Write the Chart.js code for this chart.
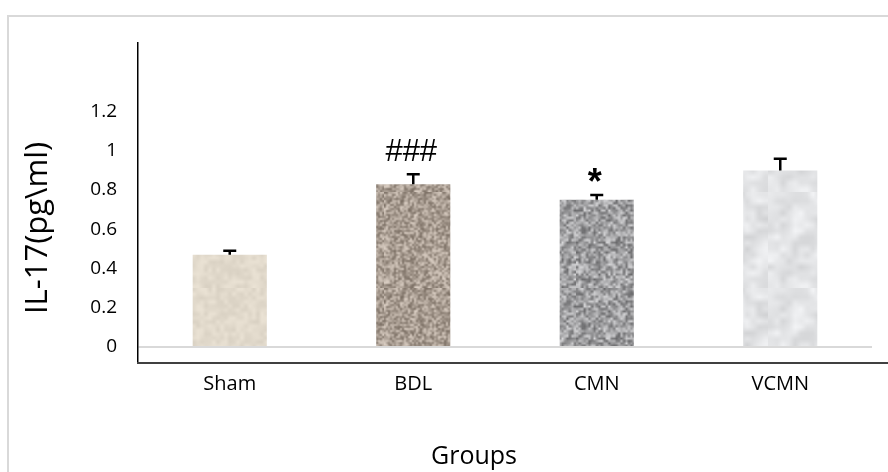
<!DOCTYPE html>
<html>
<head>
<meta charset="utf-8">
<script src="https://cdn.jsdelivr.net/npm/chart.js@4.4.1/dist/chart.umd.min.js"></script>
<style>
  html, body { margin: 0; padding: 0; background: #ffffff; }
  #c { display: block; }
</style>
</head>
<body>
<canvas id="c" width="888" height="472"></canvas>
<script>
// ---- data ----
const categories = ['Sham', 'BDL', 'CMN', 'VCMN'];
const meanValues = [0.47, 0.83, 0.75, 0.90];
const errorValues = [0.02, 0.05, 0.025, 0.06];
const significance = ['', '###', '*', ''];
const yTickValues = [0, 0.2, 0.4, 0.6, 0.8, 1, 1.2];
const yAxisTitle = 'IL-17(pg\\ml)';
const xAxisTitle = 'Groups';

// ---- textures (deterministic noise) ----
function hash(x, y, s) {
  const v = Math.sin(x * 12.9898 + y * 78.233 + s * 37.719) * 43758.5453;
  return v - Math.floor(v);
}
function makeTexture(base, amp, cell, seed, streak) {
  const W = 96, H = 96;
  const sw = Math.ceil(W / cell), sh = Math.ceil(H / cell);
  const small = document.createElement('canvas');
  small.width = sw; small.height = sh;
  const sctx = small.getContext('2d');
  const img = sctx.createImageData(sw, sh);
  for (let y = 0; y < sh; y++) {
    for (let x = 0; x < sw; x++) {
      let n = hash(x, y, seed) - 0.5;
      if (streak) n = 0.6 * n + 0.4 * Math.sin((x * 0.9 + y * 0.5) + hash(0, y, seed) * 3) * 0.5;
      const i = (y * sw + x) * 4;
      img.data[i] = Math.max(0, Math.min(255, base[0] + n * amp));
      img.data[i + 1] = Math.max(0, Math.min(255, base[1] + n * amp));
      img.data[i + 2] = Math.max(0, Math.min(255, base[2] + n * amp));
      img.data[i + 3] = 255;
    }
  }
  sctx.putImageData(img, 0, 0);
  const big = document.createElement('canvas');
  big.width = W; big.height = H;
  const bctx = big.getContext('2d');
  bctx.imageSmoothingEnabled = true;
  bctx.drawImage(small, 0, 0, W, H);
  return document.getElementById('c').getContext('2d').createPattern(big, 'repeat');
}
const textures = [
  makeTexture([226, 218, 204], 18, 4, 1, false),
  makeTexture([170, 158, 147], 95, 2, 2, false),
  makeTexture([160, 160, 162], 110, 2.5, 3, false),
  makeTexture([226, 227, 229], 36, 6, 4, true)
];

// ---- plugins ----
const framePlugin = {
  id: 'frame',
  beforeDraw(chart) {
    const ctx = chart.ctx;
    ctx.save();
    ctx.strokeStyle = '#d9d9d9';
    ctx.lineWidth = 2;
    ctx.strokeRect(8, 16, 900, 500);
    ctx.restore();
  },
  afterDraw(chart) {
    const ctx = chart.ctx, a = chart.chartArea;
    ctx.save();
    ctx.strokeStyle = '#404040';
    ctx.lineWidth = 2;
    ctx.beginPath();
    ctx.moveTo(a.left - 1, a.bottom);
    ctx.lineTo(chart.width, a.bottom);
    ctx.stroke();
    // axis titles
    ctx.fillStyle = '#000';
    ctx.textAlign = 'center';
    ctx.textBaseline = 'alphabetic';
    ctx.font = '25px "Open Sans"';
    ctx.fillText(xAxisTitle, 474, 464);
    ctx.font = '31px "Open Sans"';
    ctx.translate(47, 228);
    ctx.rotate(-Math.PI / 2);
    ctx.fillText(yAxisTitle, 0, 0);
    ctx.restore();
  }
};

const errorPlugin = {
  id: 'errbars',
  afterDatasetsDraw(chart) {
    const ctx = chart.ctx;
    const meta = chart.getDatasetMeta(0);
    const ys = chart.scales.y;
    ctx.save();
    meta.data.forEach((bar, i) => {
      const top = ys.getPixelForValue(meanValues[i] + errorValues[i]);
      ctx.strokeStyle = '#000';
      ctx.lineWidth = 2.5;
      ctx.beginPath();
      ctx.moveTo(bar.x, bar.y);
      ctx.lineTo(bar.x, top);
      ctx.moveTo(bar.x - 6.5, top);
      ctx.lineTo(bar.x + 6.5, top);
      ctx.stroke();
      if (significance[i]) {
        ctx.fillStyle = '#000';
        ctx.textAlign = 'center';
        ctx.textBaseline = 'alphabetic';
        if (significance[i] === '*') {
          ctx.font = 'bold 36px "Liberation Sans"';
          const m = ctx.measureText('*');
          const asc = m.actualBoundingBoxAscent, desc = m.actualBoundingBoxDescent;
          const centre = top - 20;
          ctx.fillText('*', bar.x - 2, centre + (asc - desc) / 2);
        } else {
          ctx.font = '31px "Liberation Sans"';
          const m = ctx.measureText(significance[i]);
          const desc = m.actualBoundingBoxDescent;
          ctx.fillText(significance[i], bar.x - 2, top - 13 - desc);
        }
      }
    });
    ctx.restore();
  }
};

new Chart(document.getElementById('c'), {
  type: 'bar',
  data: {
    labels: categories,
    datasets: [{
      data: meanValues,
      backgroundColor: textures,
      borderWidth: 0,
      categoryPercentage: 1.0,
      barPercentage: 0.404
    }]
  },
  options: {
    responsive: false,
    animation: false,
    events: [],
    layout: { padding: { top: 43, right: 16, left: 0, bottom: 0 } },
    plugins: { legend: { display: false }, tooltip: { enabled: false } },
    scales: {
      x: {
        grid: { display: false, drawTicks: false },
        border: { display: false },
        ticks: { color: '#000', padding: 9, font: { family: 'Open Sans', size: 20 } },
        afterFit(scale) { scale.height = 109; }
      },
      y: {
        min: -0.082,
        max: 1.55,
        afterBuildTicks(scale) { scale.ticks = yTickValues.map(v => ({ value: v })); },
        grid: {
          drawTicks: false,
          color: ctx => (ctx.tick && ctx.tick.value === 0) ? '#d9d9d9' : 'rgba(0,0,0,0)',
          lineWidth: 2
        },
        border: { display: true, color: '#000', width: 1.5 },
        ticks: {
          color: '#000', padding: 21, font: { family: 'Open Sans', size: 19 },
          callback: v => String(+Number(v).toFixed(1))
        },
        afterFit(scale) { scale.width = 138; }
      }
    }
  },
  plugins: [framePlugin, errorPlugin]
});
</script>
</body>
</html>
